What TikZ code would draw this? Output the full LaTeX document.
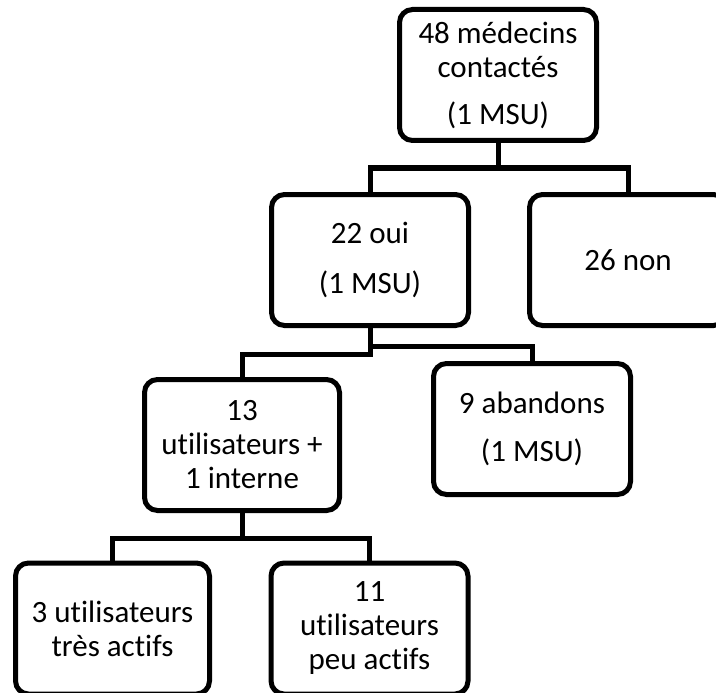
\documentclass[tikz,border=0pt]{standalone}
\usepackage{fontspec}
\setmainfont{Carlito}[Ligatures=NoCommon]
\begin{document}
\begin{tikzpicture}[x=1pt,y=-1pt,
  box/.style={draw=black, line width=5pt, rounded corners=13pt, fill=white,
    minimum width=197pt, minimum height=131pt, align=center, inner sep=0pt,
    font=\fontsize{31}{34}\selectfont},
  link/.style={draw=black, line width=5pt}]
\clip (0,0) rectangle (716,693);
\fill[white] (0,0) rectangle (716,693);
\node[box] (a) at (498,75) {48 médecins\\contactés\\[13pt](1 MSU)};
\node[box] (b) at (370,260) {22 oui\\[16pt](1 MSU)};
\node[box] (c) at (628,260) {26 non};
\node[box, minimum width=195pt] (d) at (242,445) {13\\utilisateurs +\\1 interne};
\node[box] (e) at (532,429) {9 abandons\\[14pt](1 MSU)};
\node[box, minimum width=194pt] (f) at (112.5,628.5) {3 utilisateurs\\très actifs};
\node[box] (g) at (369.5,628.5) {11\\utilisateurs\\peu actifs};
\coordinate (j1) at (498,168);
\coordinate (j2) at (370,346);
\coordinate (j3) at (370,354);
\coordinate (j4) at (242,538);
\draw[link] (a.south) -- (j1);
\draw[link] (b.north) |- (j1) -| (c.north);
\draw[link] (b.south) -- (j2) -| (e.north);
\draw[link] (j2) -- (j3) -| (d.north);
\draw[link] (d.south) -- (j4);
\draw[link] (f.north) |- (j4) -| (g.north);
\end{tikzpicture}
\end{document}
